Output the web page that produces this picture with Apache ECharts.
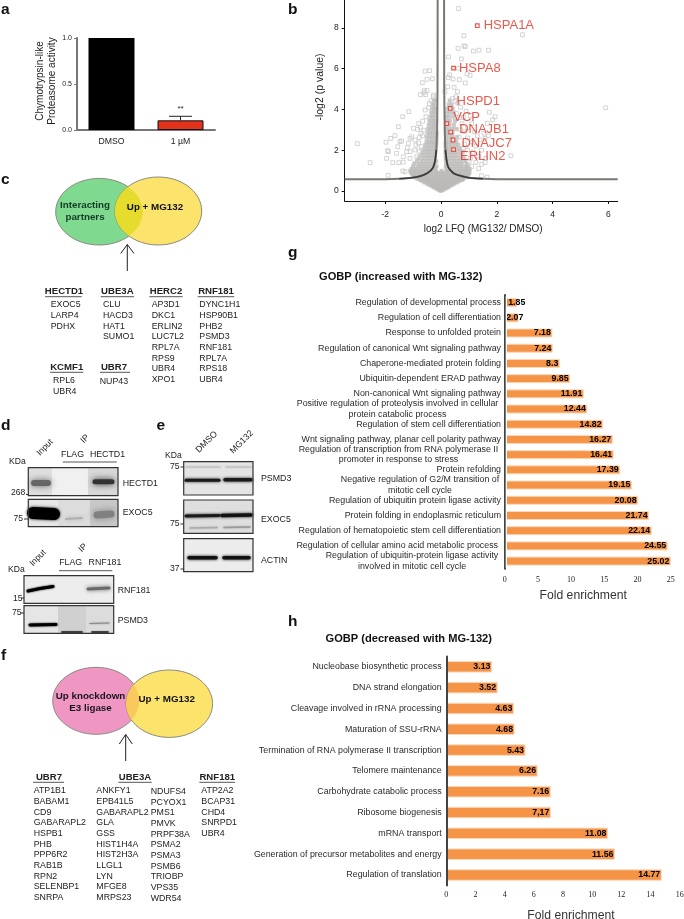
<!DOCTYPE html>
<html><head><meta charset="utf-8">
<style>html,body{margin:0;padding:0;background:#fff}#c{width:684px;height:919px}</style>
<script src="https://cdn.jsdelivr.net/npm/echarts@6/dist/echarts.min.js"></script>
</head><body><div id="c"></div>
<script>
// ---------- DATA ----------
const aCategories = ['DMSO', '1 µM'];
const aValues = [1.0, 0.105];
const aErrorTop = 0.149;
const bXTicks = [-2, 0, 2, 4, 6];
const bYTicks = [0, 2, 4, 6, 8];
const bHitNames = ['HSPA1A', 'HSPA8', 'HSPD1', 'VCP', 'DNAJB1', 'DNAJC7', 'ERLIN2'];
const bHitX = [1.3, 0.45, 0.33, 0.21, 0.35, 0.43, 0.45];
const bHitY = [8.1, 6.02, 4.05, 3.3, 2.89, 2.5, 2.03];
const bSparse = [[.63,8.94],[.82,7.61],[2.92,7.66],[.82,7.11],[.87,7.08],[.61,6.99],[1.16,6.86],[1.36,6.9],[1.7,6.9],[.27,6.57],[.73,6.47],[.62,6.01],
 [-.57,5.87],[-.41,5.9],[.31,5.69],[.26,5.56],[.43,5.49],[.66,5.46],[1.04,5.67],[.93,5.74],[-.5,5.47],[-.31,5.5],[-.67,5.31],[.87,5.29],[.24,5.11],[.47,5.08],
 [-.6,4.92],[-.5,4.92],[-.61,4.82],[-.74,4.72],[-.55,4.72],[.59,4.87],[.53,4.62],[.41,4.53],[-.27,4.7],[-.27,4.62],[.14,4.87],
 [-1.15,3.89],[-1.37,3.64],[-.54,3.64],[-.57,3.97],[-1.53,3.15],[-1.65,2.71],[-1.8,2.58],[-1.97,2.39],[-3,2.32],[-2.54,1.39],[-1.89,.77],
 [-1.73,1.39],[-1.51,1.39],[-1.37,.98],[-1.89,1.93],[-1.59,1.85],[-1.23,1.93],[-1.35,1.68],[-1.11,2.58],[-1.17,2.34],[-.93,2.5],[-1.05,2.66],[-.9,2.25],[-1.21,2.12],
 [-1.11,1.93],[-.93,2.01],[-1.35,1.41],[-1.11,1.6],[-.93,1.36],[-.87,1.68],[-1.29,.95],[-1.47,2.42],[-1.55,2.17],[-1.41,2.45],[-.99,3.07],[-.84,3.02],[-.72,2.83],[-1.91,1.98],[-1.95,1.6],
 [5.9,4.08],[2.5,1.73],[1.73,3.86],[1.94,3.64],[1.85,3.48],[1.66,3.31],[1.54,2.83],[1.7,2.7],[1.58,2.58],[1.58,1.4],[1.46,1.31],
 [.9,3.9],[1.05,3.7],[.8,3.6],[1.1,3.3],[.95,3.1],[1.2,2.9],[1.3,2.7],[1.4,2.5],[1.1,2.4],[1.25,2.2],[1.45,2],[1.15,1.9],[1.35,1.7],[1.6,1.6],[1.05,1.6],[1.25,1.4],[1.1,1.2],[1.35,1.1],[1.45,.75],[1.65,.68],
 [.85,2.9],[.95,2.6],[.85,2.3],[.95,2],[1,1.45],[.75,3.3],[.7,3],[.65,2.65],[.8,2.1],[.75,1.8],[.7,4.1],[.6,4.3],[.5,4.4],[.55,3.8],[.65,3.6],
 [-.8,3.3],[-.66,3.42],[-.74,3.12],[-.62,2.98],[-.78,2.62],[-.66,2.7],[-.8,2.35],[-.7,2.18],[-.78,1.95],[-.72,1.72],[-.42,4.28],[-.36,4.42],[-.44,4.08]];
const bDense = [
 [.02,[-.03,.02]],[.07,[-.1,-.04,.03,.09]],[.12,[-.17,-.1,-.03,.04,.1,.16]],[.18,[-.26,-.18,-.11,-.04,.03,.1,.18,.25]],
 [.24,[-.33,-.25,-.17,-.09,-.01,.07,.15,.23,.31]],[.3,[-.42,-.33,-.24,-.15,-.06,.03,.12,.21,.3,.4]],
 [.36,[-.5,-.4,-.3,-.2,-.11,-.02,.08,.18,.28,.38,.48]],[.42,[-.58,-.47,-.37,-.26,-.16,-.05,.05,.15,.26,.36,.47,.57]],
 [.48,[-.66,-.55,-.44,-.33,-.22,-.11,0,.11,.22,.33,.44,.55,.65]],[.54,[-.75,-.63,-.51,-.39,-.27,-.15,-.04,.08,.2,.32,.44,.56,.67,.76]],
 [.6,[-.85,-.73,-.6,-.47,-.34,-.22,-.09,.04,.16,.29,.42,.55,.68,.8]],[.67,[-.92,-.79,-.66,-.53,-.4,-.27,-.14,0,.13,.26,.39,.52,.65,.78,.9]],
 [.74,[-.98,-.85,-.71,-.57,-.44,-.3,-.16,-.03,.11,.25,.39,.53,.66,.8,.94]],[.82,[-1.03,-.89,-.75,-.6,-.46,-.31,-.17,-.03,.12,.27,.42,.56,.7,.85,.99]],
 [.9,[-1.08,-.93,-.78,-.63,-.48,-.33,-.18,-.05,.1,.25,.4,.55,.7,.85,1.02]],[.99,[-1.1,-.94,-.79,-.64,-.49,-.34,-.2,.02,.22,.37,.52,.67,.82,.97]],
 [1.08,[-1.05,-.9,-.76,-.62,-.48,-.34,-.2,.2,.34,.48,.62,.76,.9,1.03]],[1.2,[-1,-.84,-.7,-.56,-.42,-.28,-.16,.17,.3,.44,.58,.72,.87,.97]],
 [1.32,[-.96,-.78,-.64,-.5,-.36,-.22,.18,.32,.46,.6,.74,.92]],[1.46,[-.86,-.7,-.56,-.42,-.28,-.17,.18,.3,.44,.58,.72,.87]],
 [1.6,[-.8,-.64,-.5,-.37,-.24,.17,.28,.41,.54,.68,.82]],[1.76,[-.7,-.58,-.46,-.34,-.22,.17,.3,.43,.56,.71]],
 [1.92,[-.66,-.53,-.42,-.31,-.2,.16,.27,.38,.5,.64,.78]],[2.08,[-.6,-.48,-.38,-.28,-.18,.17,.29,.41,.54,.68]],
 [2.26,[-.56,-.46,-.36,-.26,-.17,.16,.27,.38,.5,.62]],[2.44,[-.52,-.42,-.33,-.24,-.16,.17,.28,.4,.55]],
 [2.64,[-.5,-.4,-.31,-.22,-.16,.18,.3,.42,.58]],[2.84,[-.48,-.38,-.29,-.2,-.15,.17,.28,.41]],
 [3.04,[-.46,-.36,-.27,-.19,.17,.27,.4,.54]],[3.24,[-.44,-.34,-.26,-.18,.18,.3,.46]],
 [3.44,[-.42,-.33,-.24,-.17,.2,.32,.5]],[3.64,[-.38,-.3,-.22,.19,.29,.44]],[3.84,[-.35,-.27,-.2,.22,.33,.46]],
 [4.04,[-.33,-.25,-.18,.24,.42]],[4.24,[-.3,-.23,.28,.38]],[4.44,[-.26,-.18,.31]]];
const bLeftCurve = [[-3.45,.57],[-2,.58],[-1.5,.6],[-1.05,.65],[-.7,.75],[-.5,.87],[-.35,1.03],[-.27,1.2],[-.21,1.5],[-.17,2],[-.14,3],[-.125,5],[-.12,9.4]];
const bRightCurve = [[.11,9.4],[.115,5],[.135,3],[.16,2],[.2,1.5],[.25,1.2],[.33,1.03],[.45,.87],[.6,.78],[1,.65],[1.5,.6],[2,.58],[6.33,.57]];

const gCategories = ['Regulation of developmental process','Regulation of cell differentiation','Response to unfolded protein','Regulation of canonical Wnt signaling pathway','Chaperone-mediated protein folding','Ubiquitin-dependent ERAD pathway','Non-canonical Wnt signaling pathway','Positive regulation of proteolysis involved in cellular\nprotein catabolic process','Regulation of stem cell differentiation','Wnt signaling pathway, planar cell polarity pathway','Regulation of transcription from RNA polymerase II\npromoter in response to stress','Protein refolding','Negative regulation of G2/M transition of\nmitotic cell cycle','Regulation of ubiquitin protein ligase activity','Protein folding in endoplasmic reticulum','Regulation of hematopoietic stem cell differentiation','Regulation of cellular amino acid metabolic process','Regulation of ubiquitin-protein ligase activity\ninvolved in mitotic cell cycle'];
const gValues = [1.85,2.07,7.18,7.24,8.3,9.85,11.91,12.44,14.82,16.27,16.41,17.39,19.15,20.08,21.74,22.14,24.55,25.02];
const gValueText = ['1.85','2.07','7.18','7.24','8.3','9.85','11.91','12.44','14.82','16.27','16.41','17.39','19.15','20.08','21.74','22.14','24.55','25.02'];
const hCategories = ['Nucleobase biosynthetic process','DNA strand elongation','Cleavage involved in rRNA processing','Maturation of SSU-rRNA','Termination of RNA polymerase II transcription','Telomere maintenance','Carbohydrate catabolic process','Ribosome biogenesis','mRNA transport','Generation of precursor metabolites and energy','Regulation of translation'];
const hValues = [3.13,3.52,4.63,4.68,5.43,6.26,7.16,7.17,11.08,11.56,14.77];
const hValueText = ['3.13','3.52','4.63','4.68','5.43','6.26','7.16','7,17','11.08','11.56','14.77'];

const cListHECTD1 = ['EXOC5','LARP4','PDHX'];
const cListUBE3A = ['CLU','HACD3','HAT1','SUMO1'];
const cListHERC2 = ['AP3D1','DKC1','ERLIN2','LUC7L2','RPL7A','RPS9','UBR4','XPO1'];
const cListRNF181 = ['DYNC1H1','HSP90B1','PHB2','PSMD3','RNF181','RPL7A','RPS18','UBR4'];
const cListKCMF1 = ['RPL6','UBR4'];
const cListUBR7 = ['NUP43'];
const fListUBR7 = ['ATP1B1','BABAM1','CD9','GABARAPL2','HSPB1','PHB','PPP6R2','RAB1B','RPN2','SELENBP1','SNRPA'];
const fListUBE3A1 = ['ANKFY1','EPB41L5','GABARAPL2','GLA','GSS','HIST1H4A','HIST2H3A','LLGL1','LYN','MFGE8','MRPS23'];
const fListUBE3A2 = ['NDUFS4','PCYOX1','PMS1','PMVK','PRPF38A','PSMA2','PSMA3','PSMB6','TRIOBP','VPS35','WDR54'];
const fListRNF181 = ['ATP2A2','BCAP31','CHD4','SNRPD1','UBR4'];

// ---------- LAYOUT HELPERS ----------
const FONT = '"Liberation Sans", Arial, sans-serif';
const INK = '#222';
const bLabelOffset = [[-1,0],[-2,0],[-1,-7],[-1,-6],[1,-3],[1,3],[-1,7]];
const bHitDistance = [5,5,5,5,5,5,5];
// per-label vertical nudge (px) and, for centred two-line labels, a right padding
const gNudge = [0,0,0,.7,.3,1.4,1.3,1.3,1.4,1.6,2.7,2.6,2.5,3.3,3.4,3.3,3.6,4];
const gCentredPad = {7:207,10:205,12:162,17:178};
const gRightPad = {16:3};
const hNudge = [-1,-1,-1.3,-2,-2,-2.7,-2.7,-3,-3,-3,1.3];

function catItem(v,i,nudge,cpad,rpad){
  const t=Math.max(0,2*nudge[i]), b=Math.max(0,-2*nudge[i]);
  const ts={lineHeight:10.6};
  if(cpad&&cpad[i]!=null){ts.align='center';ts.padding=[t,cpad[i],b,0];}
  else ts.padding=[t,(rpad&&rpad[i])||0,b,0];
  return {value:v,textStyle:ts};
}
const G=[];
function txt(x,y,text,o){o=o||{};
  G.push({type:'text',x:x,y:y,rotation:o.rot||0,z:o.z||50,style:{text:text,fill:o.color||INK,font:(o.bold?'bold ':'')+(o.size||8.8)+'px '+FONT,textAlign:o.align||'left',textVerticalAlign:'middle'}});
}
function seg(x1,y1,x2,y2,c,w){G.push({type:'line',z:40,shape:{x1,y1,x2,y2},style:{stroke:c||'#222',lineWidth:w||1}});}
function ell(cx,cy,rx,ry,fill){G.push({type:'ellipse',z:20,shape:{cx,cy,rx,ry},style:{fill:fill,stroke:'#8a8a80',lineWidth:1}});}
// overlap of two side-by-side ellipses, as a polygon
function lens(e1,e2,top,bot,fill){
  const pts=[];const n=24;
  const ang=(e,p)=>Math.atan2((p[1]-e[1])/e[3],(p[0]-e[0])/e[2]);
  let a=ang(e1,top),b=ang(e1,bot);
  for(let i=0;i<=n;i++){const t=a+(b-a)*i/n;pts.push([e1[0]+e1[2]*Math.cos(t),e1[1]+e1[3]*Math.sin(t)]);}
  a=ang(e2,bot);b=ang(e2,top);if(b<0)b+=2*Math.PI;
  for(let i=0;i<=n;i++){const t=a+(b-a)*i/n;pts.push([e2[0]+e2[2]*Math.cos(t),e2[1]+e2[3]*Math.sin(t)]);}
  G.push({type:'polygon',z:21,shape:{points:pts},style:{fill:fill}});
}
function blot(x1,y1,x2,y2,bg,patches,bands){
  G.push({type:'rect',z:20,shape:{x:x1,y:y1,width:x2-x1,height:y2-y1},style:{fill:bg}});
  patches.forEach(p=>G.push({type:'rect',z:21,shape:{x:p[0],y:y1+.5,width:p[1]-p[0],height:y2-y1-1},style:{fill:p[2]}}));
  bands.forEach(b=>G.push({type:'polyline',z:22,shape:{points:b.pts},style:{stroke:b.c,lineWidth:b.w,fill:null,shadowBlur:b.blur==null?3:b.blur,shadowColor:b.c,lineCap:'round'}}));
  G.push({type:'rect',z:25,shape:{x:x1,y:y1,width:x2-x1,height:y2-y1},style:{fill:null,stroke:'#333',lineWidth:1.2}});
}
function list(x,y,items,size){items.forEach((t,i)=>txt(x,y+i*10.67,t,{size:size||8.8}));}
function head(cx,y,t,ul1,ul2,uy){txt(cx,y,t,{bold:true,size:9.6,align:'center'});seg(ul1,uy,ul2,uy,'#444',.9);}

// panel letters
[['a',1,10],['b',288,9.5],['c',1,180],['d',1,425.7],['e',156.5,425.7],['f',1,656],['g',288,252.7],['h',288,622]].forEach(p=>txt(p[1],p[2],p[0],{bold:true,size:15.5,color:'#111'}));

// panel c
const cE1=[99.2,211.7,43.5,33.3],cE2=[158.3,211,43.4,34];
ell(cE1[0],cE1[1],cE1[2],cE1[3],'#7fd98f');ell(cE2[0],cE2[1],cE2[2],cE2[3],'#fce46c');
lens(cE1,cE2,[128.75,187],[128.75,236],'#e6dc2e');
txt(85,205,'Interacting',{bold:true,size:9.8,align:'center',color:'#163a28'});txt(85,217,'partners',{bold:true,size:9.8,align:'center',color:'#163a28'});
txt(155,207.5,'Up + MG132',{bold:true,size:9.8,align:'center',color:'#111'});
seg(127.3,271,127.3,244.5,'#222',1);seg(120.7,253.5,127.3,244.5,'#222',1);seg(134,253.5,127.3,244.5,'#222',1);
head(64,291.7,'HECTD1',45,81.7,296.7);head(117.3,291.7,'UBE3A',100.7,134,296.7);head(166,291.7,'HERC2',149.3,182.7,296.7);head(216,291.7,'RNF181',197.7,234.3,296.7);
list(50.7,305,cListHECTD1);list(103,305,cListUBE3A);list(151.7,305,cListHERC2);list(199.3,305,cListRNF181);
head(66.7,367.3,'KCMF1',50,83.3,372.3);head(114,367.3,'UBR7',100,130,372.3);
list(53,380.7,cListKCMF1);list(99.7,381.3,cListUBR7);

// panel f
const fE1=[96,700.8,43.3,33.5],fE2=[169.3,703.7,43.3,33.7];
ell(fE1[0],fE1[1],fE1[2],fE1[3],'#ef97c2');ell(fE2[0],fE2[1],fE2[2],fE2[3],'#fce46c');
lens(fE1,fE2,[133.8,684.5],[131.5,720],'#f9c95e');
txt(90.5,696.7,'Up knockdown',{bold:true,size:9.8,align:'center',color:'#1a1420'});txt(90.5,708.3,'E3 ligase',{bold:true,size:9.8,align:'center',color:'#1a1420'});
txt(166.7,699.3,'Up + MG132',{bold:true,size:9.8,align:'center',color:'#111'});
seg(125.7,761,125.7,734.5,'#222',1);seg(119.3,744,125.7,734.5,'#222',1);seg(132.3,744,125.7,734.5,'#222',1);
head(49,777.3,'UBR7',33,64,782.3);head(135,777.3,'UBE3A',118.3,151.7,782.3);head(217.3,777.3,'RNF181',199.3,235,782.3);
list(33.7,791,fListUBR7);list(96.3,791,fListUBE3A1);list(150.7,791.7,fListUBE3A2);list(201.3,791,fListRNF181);

// panel d blots
blot(28.3,467.7,118,495.7,'#f0f0f0',[[28.3,52,'#dedede'],[88,118,'#d8d8d8']],[
 {pts:[[34,483],[48,483]],c:'#666',w:6,blur:6},{pts:[[95,481.7],[112,481.7]],c:'#333',w:5,blur:6}]);
blot(28.3,499.3,118,526.7,'#e6e6e6',[[58,90,'#dcdcdc'],[90,118,'#c8c8c8']],[
 {pts:[[33,513],[54,514]],c:'#000',w:12,blur:3},{pts:[[66,519],[82,518]],c:'#b0b0b0',w:2,blur:4},{pts:[[97,515],[111,514]],c:'#808080',w:7,blur:7}]);
blot(24,575.7,113.7,603.3,'#ededed',[],[
 {pts:[[28,591],[40,588.5],[53,586.5]],c:'#000',w:3,blur:2},{pts:[[88,589],[109,588]],c:'#6a6a6a',w:3,blur:4}]);
blot(24,605.7,113.7,633.3,'#e6e6e6',[[58,86,'#d0d0d0'],[86,113.7,'#dcdcdc']],[
 {pts:[[30,625],[56,624.5]],c:'#000',w:3,blur:2},{pts:[[90,623.5],[109,623]],c:'#888',w:1.2,blur:2},{pts:[[62,632],[82,632]],c:'#333',w:1.5,blur:1},{pts:[[92,632],[108,632]],c:'#333',w:1.5,blur:1}]);
txt(9,462,'KDa',{size:8.6});txt(11,493,'268',{size:8.6});txt(13.5,519,'75',{size:8.6});
seg(26,494.5,28.3,494.5,'#333',1);seg(24,519,28.3,519,'#333',1);
txt(45,447.5,'Input',{size:8.6,rot:Math.PI/4,align:'center'});txt(85,439,'IP',{size:8.6,rot:Math.PI/4,align:'center'});
txt(72.5,454.3,'FLAG',{size:8.8,align:'center'});txt(107.5,454.3,'HECTD1',{size:8.8,align:'center'});seg(62.7,462,116.7,462,'#555',1);
txt(122.7,484,'HECTD1',{size:8.8});txt(122.7,512.7,'EXOC5',{size:8.8});
txt(8,569.7,'KDa',{size:8.6});txt(13,598.7,'15',{size:8.6});txt(12,612.3,'75',{size:8.6});
seg(21,598,24,598,'#333',1);seg(21,613,24,613,'#333',1);
txt(38,558,'Input',{size:8.6,rot:Math.PI/4,align:'center'});txt(83,548,'IP',{size:8.6,rot:Math.PI/4,align:'center'});
txt(70.7,562.7,'FLAG',{size:8.8,align:'center'});txt(105,562.7,'RNF181',{size:8.8,align:'center'});seg(59,570.7,112.3,570.7,'#555',1);
txt(117.7,590.3,'RNF181',{size:8.8});txt(117.7,620.3,'PSMD3',{size:8.8});

// panel e blots
blot(183.7,461.7,253,495,'#e4e4e4',[],[
 {pts:[[186,467],[220,467]],c:'#c4c4c4',w:1.5,blur:2},{pts:[[226,467],[251,467]],c:'#c4c4c4',w:1.5,blur:2},
 {pts:[[186,480.3],[219,480.3]],c:'#1a1a1a',w:3,blur:3},{pts:[[225,479.7],[251,479.7]],c:'#1a1a1a',w:3.5,blur:3}]);
blot(183.7,500,253,533.3,'#dedede',[],[
 {pts:[[186,516],[219,515.5]],c:'#1a1a1a',w:3,blur:3},{pts:[[222,515.5],[251,515]],c:'#111',w:3.5,blur:3},
 {pts:[[190,528],[217,527.5]],c:'#aaa',w:1.5,blur:2},{pts:[[224,527.5],[250,527]],c:'#999',w:1.5,blur:2}]);
blot(183.7,538.7,253,571.7,'#ececec',[],[
 {pts:[[189,557.7],[216,557.7]],c:'#111',w:3.5,blur:3},{pts:[[224,557.7],[249,557.7]],c:'#111',w:3.5,blur:3}]);
txt(165,456,'KDa',{size:8.6});txt(170,466.7,'75',{size:8.6});txt(170,524,'75',{size:8.6});txt(170,569,'37',{size:8.6});
seg(180.5,467,183.7,467,'#333',1);seg(180.5,524,183.7,524,'#333',1);seg(180.5,569,183.7,569,'#333',1);
txt(206.7,442,'DMSO',{size:8.8,rot:Math.PI/4,align:'center'});txt(241.7,442,'MG132',{size:8.8,rot:Math.PI/4,align:'center'});
txt(261,479,'PSMD3',{size:8.8});txt(261,519.3,'EXOC5',{size:8.8});txt(261,560.7,'ACTIN',{size:8.8});

// g / h titles
txt(319,276.7,'GOBP (increased with MG-132)',{bold:true,size:11.1,color:'#111'});
txt(325.5,639.3,'GOBP (decreased with MG-132)',{bold:true,size:11.1,color:'#111'});
// gap between the g axis line and its bars
G.push({type:'rect',z:60,shape:{x:505.7,y:296,width:1.3,height:272},style:{fill:'#fff'}});

const orange='#f59446', halo='#fbd8bb';
function barSeries(xi,vals,texts,bw,small){
  return {type:'bar',xAxisIndex:xi,yAxisIndex:xi,barWidth:bw,
    data:vals.map((v,i)=>{const d={value:v};if(small&&small[i])d.label={position:'insideLeft',distance:small[i]};return d;}),
    itemStyle:{color:orange,borderColor:halo,borderWidth:1},
    label:{show:true,position:'insideRight',distance:1.5,color:'#000',fontWeight:'bold',fontSize:8.8,fontFamily:FONT,formatter:p=>texts[p.dataIndex],textBorderWidth:0}};
}
const bPts=[];bDense.forEach(r=>r[1].forEach(x=>bPts.push([x,r[0]])));

const option={
  animation:false,backgroundColor:'#fff',textStyle:{fontFamily:FONT},
  grid:[
    {left:77,width:138,top:38,height:92,outerBoundsMode:'none'},
    {left:344.7,width:273,top:0,height:201,outerBoundsMode:'none'},
    {left:504.7,width:166,top:295,height:273.7,outerBoundsMode:'none'},
    {left:446.3,width:233.4,top:656.4,height:229,outerBoundsMode:'none'}
  ],
  xAxis:[
    {gridIndex:0,type:'category',data:aCategories,axisLine:{lineStyle:{color:'#777',width:2}},axisTick:{alignWithLabel:true,length:3,lineStyle:{color:'#777',width:1}},axisLabel:{color:INK,fontSize:8.7,margin:7,fontFamily:FONT}},
    {gridIndex:1,type:'value',min:-3.45,max:6.33,splitLine:{show:false},axisLine:{onZero:false,lineStyle:{color:'#111',width:1}},axisTick:{length:3,lineStyle:{color:'#111'},customValues:bXTicks},axisLabel:{color:INK,fontSize:8.5,margin:9,customValues:bXTicks,fontFamily:FONT},
      name:'log2 LFQ (MG132/ DMSO)',nameLocation:'middle',nameGap:23,nameTextStyle:{color:INK,fontSize:10,padding:[0,0,0,4],fontFamily:FONT}},
    {gridIndex:2,type:'value',min:0,max:25,interval:5,splitLine:{show:false},axisLine:{show:false},axisTick:{show:false},axisLabel:{color:'#222',fontSize:8,margin:7,fontFamily:'"Liberation Serif",serif'},
      name:'Fold enrichment',nameLocation:'middle',nameGap:21,nameTextStyle:{color:'#333',fontSize:12.2,padding:[0,9,0,0],fontFamily:FONT}},
    {gridIndex:3,type:'value',min:0,max:16,interval:2,splitLine:{show:false},axisLine:{show:false},axisTick:{show:false},axisLabel:{color:'#222',fontSize:8,margin:6,fontFamily:'"Liberation Serif",serif'},
      name:'Fold enrichment',nameLocation:'middle',nameGap:24,nameTextStyle:{color:'#333',fontSize:12.2,padding:[0,0,0,16],fontFamily:FONT}}
  ],
  yAxis:[
    {gridIndex:0,type:'value',min:0,max:1,interval:.5,splitLine:{show:false},axisLine:{show:true,lineStyle:{color:'#777',width:2}},axisTick:{show:true,length:3,lineStyle:{color:'#777'}},axisLabel:{color:INK,fontSize:7,margin:5,formatter:v=>v.toFixed(1),fontFamily:FONT},
      name:'Chymotrypsin-like\nProteasome activity',nameLocation:'middle',nameGap:18,nameTextStyle:{color:INK,fontSize:10,lineHeight:12,padding:[0,0,0,6],fontFamily:FONT}},
    {gridIndex:1,type:'value',min:-.49,max:9.36,splitLine:{show:false},axisLine:{show:true,onZero:false,lineStyle:{color:'#111',width:1}},axisTick:{show:true,length:3,lineStyle:{color:'#111'},customValues:bYTicks},axisLabel:{color:INK,fontSize:8.5,margin:6,customValues:bYTicks,fontFamily:FONT},
      name:'-log2 (p value)',nameLocation:'middle',nameGap:19,nameTextStyle:{color:INK,fontSize:10.5,padding:[0,0,0,27],fontFamily:FONT}},
    {gridIndex:2,type:'category',inverse:true,z:5,data:gCategories.map((v,i)=>catItem(v,i,gNudge,gCentredPad,gRightPad)),axisLine:{lineStyle:{color:'#444',width:2}},axisTick:{show:false},axisLabel:{interval:0,color:'#2a2a2a',fontSize:8.85,margin:3.7,fontFamily:FONT}},
    {gridIndex:3,type:'category',inverse:true,z:5,data:hCategories.map((v,i)=>catItem(v,i,hNudge)),axisLine:{lineStyle:{color:'#444',width:2}},axisTick:{show:false},axisLabel:{interval:0,color:'#2a2a2a',fontSize:8.85,margin:4.6,fontFamily:FONT}}
  ],
  series:[
    {type:'bar',xAxisIndex:0,yAxisIndex:0,barWidth:46,data:[{value:aValues[0],itemStyle:{color:'#000'}},{value:aValues[1],itemStyle:{color:'#e2321c',borderColor:'#111',borderWidth:1}}]},
    {type:'custom',xAxisIndex:0,yAxisIndex:0,z:5,data:[[1,aValues[1],aErrorTop]],renderItem:(p,api)=>{
      const a=api.coord([api.value(0),api.value(1)]),b=api.coord([api.value(0),api.value(2)]);
      return {type:'group',children:[
        {type:'line',shape:{x1:a[0],y1:a[1],x2:b[0],y2:b[1]},style:{stroke:'#222',lineWidth:1}},
        {type:'line',shape:{x1:b[0]-11.5,y1:b[1],x2:b[0]+11.5,y2:b[1]},style:{stroke:'#222',lineWidth:1}},
        {type:'text',x:b[0],y:b[1]-7,style:{text:'**',font:'8px '+FONT,fill:INK,textAlign:'center',textVerticalAlign:'middle'}}
      ]};}},
    {type:'scatter',xAxisIndex:1,yAxisIndex:1,symbol:'rect',symbolSize:4,z:2,silent:true,data:bPts,itemStyle:{color:'#bcbab8',borderWidth:0}},
    {type:'scatter',xAxisIndex:1,yAxisIndex:1,symbol:'rect',symbolSize:3.8,z:3,silent:true,data:bSparse,itemStyle:{color:'rgba(255,255,255,0)',borderColor:'#c8c8c8',borderWidth:1}},
    {type:'line',xAxisIndex:1,yAxisIndex:1,z:4,data:bLeftCurve,showSymbol:false,smooth:.2,lineStyle:{color:'#7b7773',width:2}},
    {type:'line',xAxisIndex:1,yAxisIndex:1,z:4,data:bRightCurve,showSymbol:false,smooth:.2,lineStyle:{color:'#7b7773',width:2}},
    {type:'line',xAxisIndex:1,yAxisIndex:1,z:5,data:bLeftCurve.slice(2,10),showSymbol:false,smooth:.2,lineStyle:{color:'#3c3a38',width:1.6}},
    {type:'line',xAxisIndex:1,yAxisIndex:1,z:5,data:bRightCurve.slice(3,11),showSymbol:false,smooth:.2,lineStyle:{color:'#3c3a38',width:1.6}},
    {type:'scatter',xAxisIndex:1,yAxisIndex:1,symbol:'rect',symbolSize:3.6,z:6,
      data:bHitNames.map((n,i)=>({name:n,value:[bHitX[i],bHitY[i]],label:{offset:bLabelOffset[i],distance:bHitDistance[i]}})),
      itemStyle:{color:'#fff',borderColor:'#e4301f',borderWidth:1.2},
      label:{show:true,position:'right',formatter:'{b}',color:'#e4301f',fontSize:13,fontFamily:FONT}},
    barSeries(2,gValues,gValueText,9,{0:3.5,1:1.5}),
    barSeries(3,hValues,hValueText,11.5)
  ],
  graphic:{elements:G}
};
echarts.init(document.getElementById('c')).setOption(option);
</script></body></html>
